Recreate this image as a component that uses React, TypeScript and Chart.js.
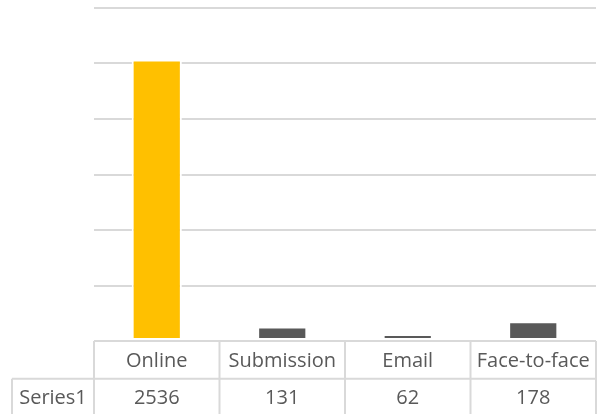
import React, { useEffect, useRef } from "react";
import { Chart, registerables } from "chart.js";

Chart.register(...registerables);

const categories = ["Online", "Submission", "Email", "Face-to-face"];
const seriesName = "Series1";
const values = [2536, 131, 62, 178];
const barColors = ["#FFC000", "#595959", "#595959", "#595959"];
const yMax = 3000;
const yStep = 500;

const tablePlugin = {
  id: "dataTable",
  afterDraw(chart: any) {
    const { ctx, chartArea, scales } = chart;
    const x = scales.x;
    const n = categories.length;
    const colW = (chartArea.right - chartArea.left) / n;
    const top = chartArea.bottom;
    const rowH = 37.7;
    const row2 = top + rowH;
    const bottom = chart.height + 2;
    const leftEdge = 12;
    ctx.save();
    ctx.strokeStyle = "#d9d9d9";
    ctx.lineWidth = 2;
    ctx.beginPath();
    ctx.moveTo(chartArea.left, top);
    ctx.lineTo(chartArea.right, top);
    ctx.moveTo(leftEdge, row2);
    ctx.lineTo(chartArea.right, row2);
    for (let i = 0; i <= n; i++) {
      const xp =
        i < n ? x.getPixelForValue(i) - colW / 2 : x.getPixelForValue(n - 1) + colW / 2;
      ctx.moveTo(xp, top);
      ctx.lineTo(xp, bottom);
    }
    ctx.moveTo(leftEdge, row2);
    ctx.lineTo(leftEdge, bottom);
    ctx.stroke();

    ctx.fillStyle = "#595959";
    ctx.font = '20px "Open Sans"';
    ctx.textAlign = "center";
    ctx.textBaseline = "alphabetic";
    categories.forEach((c, i) => {
      ctx.fillText(c, x.getPixelForValue(i), top + 26);
    });
    values.forEach((v, i) => {
      ctx.fillText(String(v), x.getPixelForValue(i), row2 + 25.5);
    });
    ctx.fillText(seriesName, (leftEdge + chartArea.left) / 2, row2 + 25.5);
    ctx.restore();
  },
};

export default function App() {
  const ref = useRef<HTMLCanvasElement | null>(null);
  useEffect(() => {
    if (!ref.current) return;
    const chart = new Chart(ref.current, {
      type: "bar",
      data: {
        labels: categories,
        datasets: [
          {
            label: seriesName,
            data: values,
            backgroundColor: barColors,
            borderColor: "#ffffff",
            borderWidth: 2,
            borderSkipped: false,
            barPercentage: 0.4,
            categoryPercentage: 1,
          },
        ],
      },
      options: {
        animation: false,
        responsive: false,
        maintainAspectRatio: false,
        layout: { padding: { left: 94, right: 3, top: 8, bottom: 73 } },
        plugins: { legend: { display: false }, tooltip: { enabled: false } },
        scales: {
          x: { display: false, offset: true },
          y: {
            min: 0,
            max: yMax,
            ticks: { display: false, stepSize: yStep },
            grid: { color: "#d9d9d9", lineWidth: 2, drawTicks: false },
            border: { display: false },
          },
        },
      },
      plugins: [tablePlugin],
    });
    return () => chart.destroy();
  }, []);
  return (
    <div style={{ position: "fixed", left: 0, top: 0, width: 599, height: 414, background: "#fff" }}>
      <canvas ref={ref} width={599} height={414} />
    </div>
  );
}
